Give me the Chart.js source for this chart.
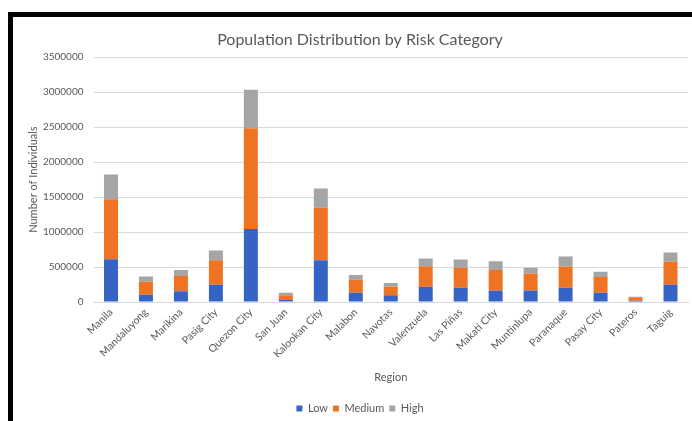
<!DOCTYPE html>
<html>
<head>
<meta charset="utf-8">
<script src="https://cdn.jsdelivr.net/npm/chart.js@4/dist/chart.umd.min.js"></script>
<style>
  html, body { margin: 0; padding: 0; background: #fff; overflow: hidden; }
  body { width: 692px; height: 421px; position: relative; }
  .frame {
    position: absolute; left: 8px; top: 12px; width: 720px; height: 420px;
    border-left: 5px solid #000; border-top: 5px solid #000; box-sizing: border-box;
  }
  .wrap { position: absolute; left: 13px; top: 17px; width: 694px; height: 404px; }
</style>
</head>
<body>
<div class="frame"></div>
<div class="wrap"><canvas id="c" width="694" height="404"></canvas></div>
<script>
// Regions of Metro Manila and population counts per risk category
const regions = ["Manila", "Mandaluyong", "Marikina", "Pasig City", "Quezon City", "San Juan",
  "Kalookan City", "Malabon", "Navotas", "Valenzuela", "Las Piñas", "Makati City",
  "Muntinlupa", "Paranaque", "Pasay City", "Pateros", "Taguig"];
const lowRisk = [611000, 105000, 155000, 246000, 1044000, 29000, 597000, 134000, 97000,
  217000, 202000, 163000, 163000, 202000, 134000, 19000, 246000];
const mediumRisk = [858000, 184000, 216000, 351000, 1440000, 68000, 751000, 184000, 120000,
  293000, 285000, 295000, 246000, 304000, 223000, 49000, 332000];
const highRisk = [355000, 76000, 87000, 140000, 549000, 37000, 274000, 67000, 53000,
  111000, 120000, 124000, 82000, 144000, 76000, 7000, 130000];
const yTicks = [0, 500000, 1000000, 1500000, 2000000, 2500000, 3000000, 3500000];

const textColor = "#595959";
const fontFamily = "Lato, 'Open Sans', sans-serif";

new Chart(document.getElementById("c"), {
  type: "bar",
  data: {
    labels: regions,
    datasets: [
      { label: "Low", data: lowRisk, backgroundColor: "#3563C6" },
      { label: "Medium", data: mediumRisk, backgroundColor: "#EE7424" },
      { label: "High", data: highRisk, backgroundColor: "#A5A5A5" }
    ]
  },
  options: {
    responsive: false,
    animation: false,
    barPercentage: 0.8,
    categoryPercentage: 0.5,
    layout: { padding: { left: 19, right: 19, top: 0, bottom: -3 } },
    plugins: {
      title: {
        display: true,
        text: "Population Distribution by Risk Category",
        color: textColor,
        font: { family: fontFamily, size: 16, weight: "normal" },
        padding: { top: 13, bottom: 8 }
      },
      legend: {
        position: "bottom",
        labels: {
          color: textColor,
          font: { family: fontFamily, size: 11 },
          boxWidth: 6, boxHeight: 6, padding: 5
        }
      },
      tooltip: { enabled: false }
    },
    scales: {
      x: {
        stacked: true,
        grid: { display: false, drawTicks: false },
        border: { color: "#d9d9d9" },
        ticks: {
          color: textColor, font: { family: fontFamily, size: 10.5 },
          maxRotation: 45, minRotation: 45, autoSkip: false, padding: 4
        },
        title: {
          display: true, text: "Region", color: textColor,
          font: { family: fontFamily, size: 11 }, padding: { top: 4, bottom: 14 }
        },
        afterFit: (s) => { s.height = 96; }
      },
      y: {
        stacked: true,
        min: 0, max: 3500000,
        afterBuildTicks: (s) => { s.ticks = yTicks.map(v => ({ value: v })); },
        grid: { color: "#d9d9d9", drawTicks: false },
        border: { display: false },
        ticks: {
          color: textColor, font: { family: fontFamily, size: 10 }, padding: 10,
          callback: (v) => String(v)
        },
        title: {
          display: true, text: "Number of Individuals", color: textColor,
          font: { family: fontFamily, size: 11 }, padding: { top: -5, bottom: 0 }
        },
        afterFit: (s) => { s.width = 61.5; }
      }
    }
  }
});
</script>
</body>
</html>
